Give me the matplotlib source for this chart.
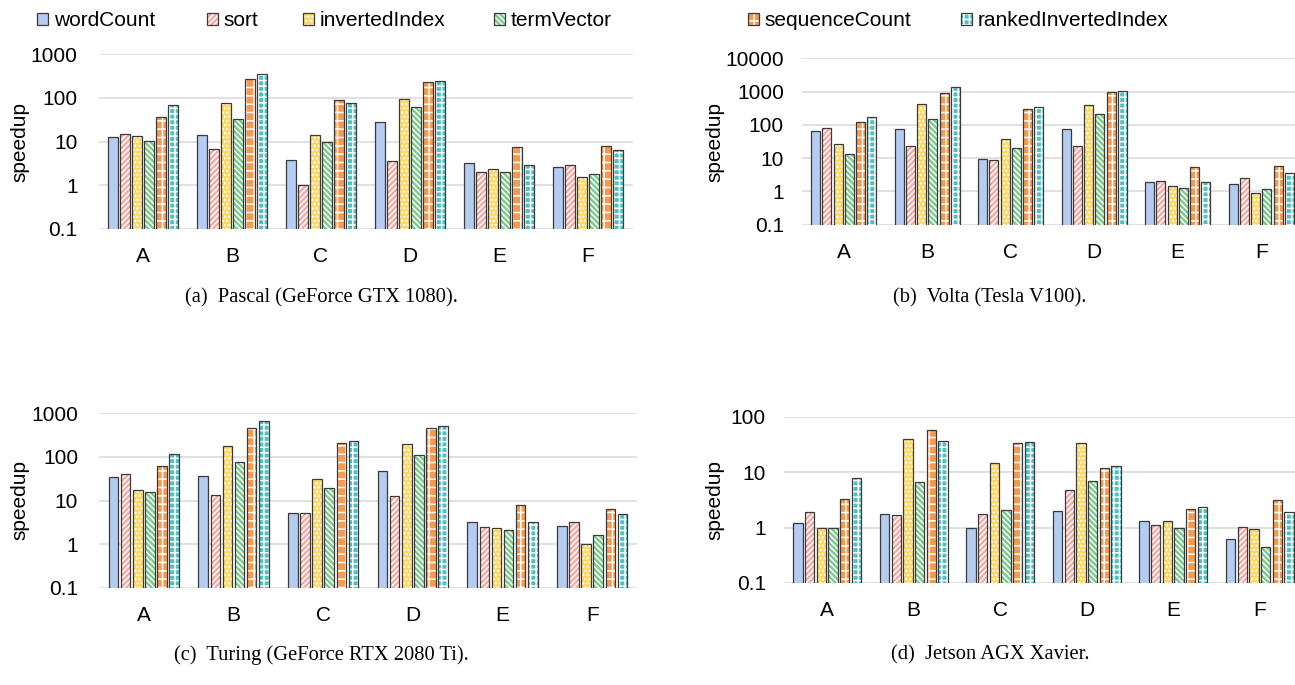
import matplotlib
matplotlib.use("Agg")
import matplotlib.pyplot as plt
from matplotlib.patches import Patch
import numpy as np

plt.rcParams['font.family'] = ['Liberation Sans', 'DejaVu Sans']
plt.rcParams['hatch.linewidth'] = 1.1

categories = ['A', 'B', 'C', 'D', 'E', 'F']
series = ['wordCount', 'sort', 'invertedIndex', 'termVector',
          'sequenceCount', 'rankedInvertedIndex']

# speedup values, one list per series, for each GPU
pascal = {
    'wordCount':           [12.6, 14.3, 3.8, 27.4, 3.25, 2.68],
    'sort':                [15.0, 6.6, 1.0, 3.55, 2.02, 2.98],
    'invertedIndex':       [13.3, 76, 14.0, 92, 2.37, 1.53],
    'termVector':          [10.4, 33, 9.9, 60, 2.06, 1.85],
    'sequenceCount':       [37, 275, 88, 226, 7.4, 7.8],
    'rankedInvertedIndex': [69.5, 351, 74, 247, 2.9, 6.35],
}
volta = {
    'wordCount':           [66, 77.6, 9.3, 77.6, 1.9, 1.7],
    'sort':                [79, 22.9, 8.9, 22.9, 2.04, 2.57],
    'invertedIndex':       [26.3, 417, 37, 398, 1.48, 0.89],
    'termVector':          [13.2, 151, 19.5, 209, 1.26, 1.2],
    'sequenceCount':       [123, 891, 302, 955, 5.5, 6.0],
    'rankedInvertedIndex': [178, 1413, 339, 1072, 1.86, 3.47],
}
turing = {
    'wordCount':           [35, 35.6, 5.2, 47.2, 3.14, 2.59],
    'sort':                [39.6, 13.1, 5.1, 12.8, 2.5, 3.14],
    'invertedIndex':       [17.6, 174, 30.4, 200, 2.29, 0.98],
    'termVector':          [15.3, 74.7, 18.9, 108, 2.06, 1.58],
    'sequenceCount':       [60.4, 450, 211, 450, 7.8, 6.24],
    'rankedInvertedIndex': [114, 674, 230, 500, 3.14, 4.79],
}
xavier = {
    'wordCount':           [1.2, 1.77, 1.0, 1.97, 1.32, 0.63],
    'sort':                [1.87, 1.69, 1.79, 4.71, 1.13, 1.03],
    'invertedIndex':       [1.0, 39.8, 14.9, 33.7, 1.34, 0.93],
    'termVector':          [1.0, 6.76, 2.05, 6.85, 1.0, 0.44],
    'sequenceCount':       [3.24, 58.6, 33.2, 11.8, 2.2, 3.16],
    'rankedInvertedIndex': [8.0, 36.1, 34.6, 12.8, 2.33, 1.94],
}

captions = ['(a)  Pascal (GeForce GTX 1080).', '(b)  Volta (Tesla V100).',
            '(c)  Turing (GeForce RTX 2080 Ti).', '(d)  Jetson AGX Xavier.']

# face colour, hatch colour, hatch pattern
styles = {
    'wordCount':           ('#b4cbf2', '#b4cbf2', None),
    'sort':                ('#f4aaa5', 'white', '//////'),
    'invertedIndex':       ('#ffd864', 'white', '....'),
    'termVector':          ('#7cca8c', 'white', '\\\\\\\\\\\\'),
    'sequenceCount':       ('#f79a4e', 'white', '++'),
    'rankedInvertedIndex': ('#52c0c0', 'white', '+++'),
}
edge = '#3a3a3a'

fig = plt.figure(figsize=(12.95, 6.85), dpi=100)
W, H = 1295, 685


def px_axes(l, t, r, b):
    return fig.add_axes([l / W, 1 - b / H, (r - l) / W, (b - t) / H])


panels = [
    (px_axes(98.5, 54, 632.5, 229), pascal, 1000, 15),
    (px_axes(802, 58.3, 1303, 224.7), volta, 10000, 13),
    (px_axes(99, 413.3, 637, 587.7), turing, 1000, 15),
    (px_axes(784, 416.7, 1303, 583), xavier, 100, 13),
]

x = np.arange(len(categories))
pitch, width = 0.135, 0.107
for ax, data, top, ypad in panels:
    ax.set_yscale('log')
    for i, s in enumerate(series):
        fc, hc, hatch = styles[s]
        pos = x + (i - 2.5) * pitch
        ax.bar(pos, data[s], width, color=fc, edgecolor=hc,
               hatch=hatch, linewidth=0, zorder=2)
        ax.bar(pos, data[s], width, facecolor='none',
               edgecolor=edge, linewidth=0.9, zorder=3)
    ax.set_ylim(0.1, top)
    ax.set_xlim(-0.5, len(categories) - 0.5)
    ticks = [10.0 ** k for k in range(-1, int(np.log10(top)) + 1)]
    ax.set_yticks(ticks)
    ax.set_yticklabels(['0.1' if t < 1 else str(int(t)) for t in ticks])
    ax.yaxis.set_minor_locator(plt.NullLocator())
    ax.set_xticks(x)
    ax.set_xticklabels(categories)
    ax.tick_params(axis='both', length=0, labelsize=15)
    ax.tick_params(axis='x', pad=13)
    ax.tick_params(axis='y', pad=ypad)
    ax.grid(axis='y', color='#d9d9d9', linewidth=1.1, zorder=0)
    for sp in ax.spines.values():
        sp.set_visible(False)

# y labels
for xl, yc in [(20, 141.5), (715, 141.5), (20, 500), (715, 500)]:
    fig.text(xl / W, 1 - yc / H, 'speedup', rotation=90, fontsize=15,
             ha='center', va='center')

# captions
for (xc, yc), cap in zip([(321, 298), (990, 298), (321, 655), (990, 655)], captions):
    fig.text(xc / W, 1 - yc / H, cap, fontsize=14.8, ha='center', va='center',
             family=['Liberation Serif', 'DejaVu Serif'])

# legend entries at their own positions
leg_x = [37, 207, 303, 494, 748, 961]
for s, lx in zip(series, leg_x):
    fc, hc, hatch = styles[s]
    h = (Patch(facecolor=fc, edgecolor=hc, hatch=hatch, linewidth=0),
         Patch(facecolor='none', edgecolor=edge, linewidth=0.9))
    fig.legend(handles=[h], labels=[s], loc='center left',
               bbox_to_anchor=(lx / W, 1 - 21 / H), frameon=False,
               fontsize=15, handlelength=0.55, handleheight=0.55,
               handletextpad=0.25, borderpad=0, borderaxespad=0)

fig.savefig('out.png', dpi=100)
